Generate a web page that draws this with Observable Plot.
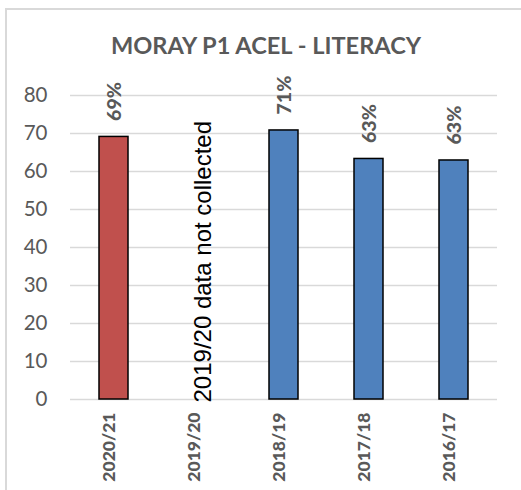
<!DOCTYPE html>
<html><head><meta charset="utf-8">
<script src="https://cdn.jsdelivr.net/npm/d3@7"></script>
<script src="https://cdn.jsdelivr.net/npm/@observablehq/plot@0.6"></script>
<style>
body{margin:0;background:#fff;width:521px;height:490px;overflow:hidden;position:relative;font-family:Lato}
#frame{position:absolute;left:5px;top:8px;width:600px;height:600px;border-left:2px solid #d9d9d9;border-top:2px solid #d9d9d9;}
#title{position:absolute;left:0;width:532px;top:34px;text-align:center;font:bold 23.6px/23.6px Lato;color:#595959;white-space:nowrap}
#chart{position:absolute;left:0;top:70px}
</style></head><body>
<div id="frame"></div>
<div id="title">MORAY P1 ACEL - LITERACY</div>
<div id="chart"></div>
<script>
const years = ["2020/21", "2019/20", "2018/19", "2017/18", "2016/17"];
const values = [69.1, null, 70.8, 63.3, 62.9];
const valueLabels = ["69%", "", "71%", "63%", "63%"];
const barColors = ["#C0504D", "#4F81BD", "#4F81BD", "#4F81BD", "#4F81BD"];
const yTicks = [0, 10, 20, 30, 40, 50, 60, 70, 80];
const noteText = "2019/20 data not collected";
const noteYear = "2019/20";

const data = years.map((year, i) => ({year, value: values[i], label: valueLabels[i], color: barColors[i]}));
const barData = data.filter(d => d.value != null);

const chart = Plot.plot({
  width: 521, height: 420,
  marginTop: 25, marginBottom: 91, marginLeft: 70, marginRight: 24,
  style: {fontFamily: "Lato", background: "transparent", overflow: "visible"},
  x: {domain: years, paddingInner: 0.66, paddingOuter: 0.33, axis: null},
  y: {domain: [0, 80], axis: null},
  color: {type: "identity"},
  marks: [
    Plot.ruleY(yTicks, {stroke: "#d9d9d9", strokeWidth: 1.5}),
    Plot.text(yTicks, {y: d => d, text: d => String(d), frameAnchor: "left", textAnchor: "end", dx: -23, fontSize: 20.5, fill: "#595959"}),
    Plot.text(years, {x: d => d, text: d => d, frameAnchor: "bottom", rotate: -90, textAnchor: "end", dy: 13, dx: 1, fontSize: 17.5, fontWeight: 900, fill: "#595959"}),
    Plot.barY(barData, {x: "year", y: "value", fill: "color", stroke: "black", strokeWidth: 1.5}),
    Plot.text(barData, {x: "year", y: "value", text: "label", rotate: -90, textAnchor: "start", dy: -16, dx: 1, fontSize: 19.5, fontWeight: 900, fill: "#595959"}),
    Plot.text([{year: noteYear, text: noteText}], {x: "year", y: () => 0, text: "text", rotate: -90, textAnchor: "start", dx: 4.5, dy: 3, fontSize: 24, fontFamily: "Liberation Sans, Arial, sans-serif", fill: "black"})
  ]
});
document.getElementById("chart").appendChild(chart);
</script>
</body></html>
